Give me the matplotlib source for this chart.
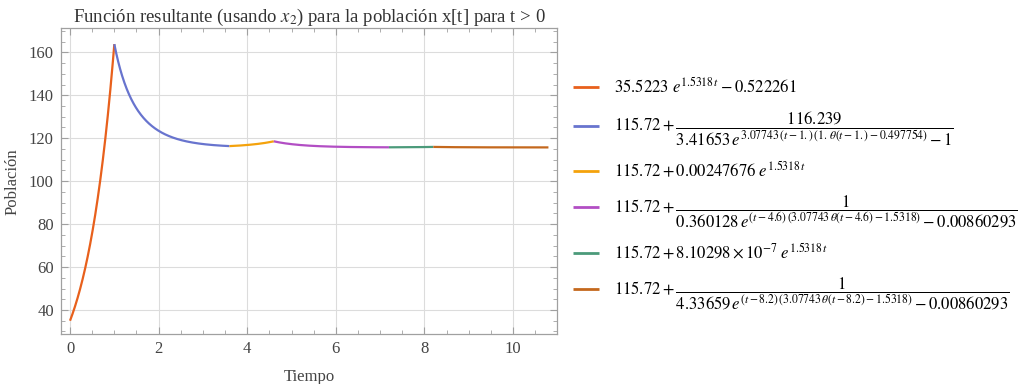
import numpy as np
import matplotlib
matplotlib.use("Agg")
import matplotlib.pyplot as plt
from matplotlib.ticker import MultipleLocator

plt.rcParams['font.family'] = 'serif'
plt.rcParams['font.serif'] = ['Liberation Serif', 'DejaVu Serif']
plt.rcParams['mathtext.fontset'] = 'stix'

# Piecewise solution: interval limits for each branch
t_start = [0.0, 1.0, 3.6, 4.6, 7.2, 8.2]
t_end = [1.0, 3.6, 4.6, 7.2, 8.2, 10.8]

# Constants that appear in the branch expressions
K = 115.72
r = 1.5318
s = 3.07743
a1, b1 = 35.5223, 0.522261
n2, c2, d2 = 116.239, 3.41653, 0.497754
c3 = 0.00247676
c4 = 0.360128
c5 = 8.10298e-7
c6 = 4.33659
eps = 0.00860293

colors = ['#E8601C', '#6874CE', '#F4A20C', '#B24EC4', '#4B9A7A', '#C4681D']

labels = [
    r'$35.5223\ e^{1.5318\,t} - 0.522261$',
    r'$115.72 + \dfrac{116.239}{3.41653\, e^{3.07743\, (t-1.)\, (1.\, \theta(t-1.)-0.497754)}-1}$',
    r'$115.72 + 0.00247676\ e^{1.5318\,t}$',
    r'$115.72 + \dfrac{1}{0.360128\, e^{(t-4.6)\, (3.07743\, \theta(t-4.6)-1.5318)}-0.00860293}$',
    r'$115.72 + 8.10298 \times 10^{-7}\ e^{1.5318\,t}$',
    r'$115.72 + \dfrac{1}{4.33659\, e^{(t-8.2)\, (3.07743\, \theta(t-8.2)-1.5318)}-0.00860293}$',
]


def theta(x):
    return np.heaviside(x, 1.0)


branches = [
    lambda t: a1 * np.exp(r * t) - b1,
    lambda t: K + n2 / (c2 * np.exp(s * (t - 1.0) * (1.0 * theta(t - 1.0) - d2)) - 1),
    lambda t: K + c3 * np.exp(r * t),
    lambda t: K + 1 / (c4 * np.exp((t - 4.6) * (s * theta(t - 4.6) - r)) - eps),
    lambda t: K + c5 * np.exp(r * t),
    lambda t: K + 1 / (c6 * np.exp((t - 8.2) * (s * theta(t - 8.2) - r)) - eps),
]

fig = plt.figure(figsize=(10.19, 3.84), dpi=100)
ax = fig.add_axes([0.0596, 0.129, 0.4873, 0.7973])

handles = []
for t0, t1, f, c, lab in zip(t_start, t_end, branches, colors, labels):
    t = np.linspace(t0, t1, 300)
    h, = ax.plot(t, f(t), color=c, lw=1.6, label=lab, solid_capstyle='butt')
    handles.append(h)

ax.set_xlim(-0.21, 11.0)
ax.set_ylim(28.6, 171.2)
ax.xaxis.set_major_locator(MultipleLocator(2))
ax.xaxis.set_minor_locator(MultipleLocator(0.5))
ax.yaxis.set_major_locator(MultipleLocator(20))
ax.yaxis.set_minor_locator(MultipleLocator(5))
ax.grid(True, which='major', color='#dcdcdc', lw=0.8)
ax.set_axisbelow(True)

frame_col = '#a0a0a0'
for sp in ax.spines.values():
    sp.set_color(frame_col)
    sp.set_linewidth(0.9)
ax.tick_params(which='both', direction='in', top=True, right=True,
               color=frame_col, labelcolor='#444444', labelsize=12)
ax.tick_params(which='major', length=5, pad=5)
ax.tick_params(which='minor', length=3)

ax.set_title(r'Función resultante (usando $x_2$) para la población x[t] para t > 0',
             fontsize=13.5, color='#333333', pad=3)
ax.set_xlabel('Tiempo', fontsize=12, color='#444444', labelpad=8)
ax.set_ylabel('Población', fontsize=12, color='#444444', labelpad=6)

leg = fig.legend(handles=handles, loc='center left', bbox_to_anchor=(0.5545, 0.494),
                 frameon=False, fontsize=12, handlelength=1.56, handletextpad=0.88,
                 labelspacing=0.75, borderpad=0)
for ln in leg.get_lines():
    ln.set_linewidth(2.0)

fig.savefig('out.png', dpi=100)
